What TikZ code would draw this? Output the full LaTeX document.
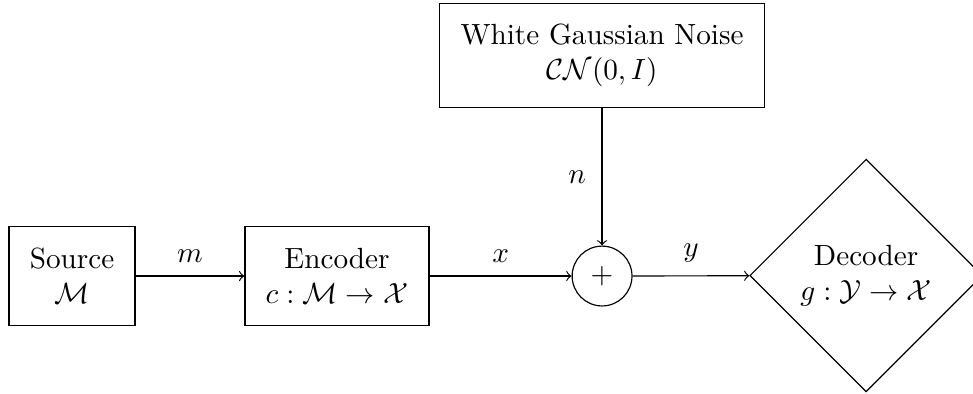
\documentclass[tikz,border=0pt]{standalone}
\usepackage{amsmath,amssymb}
\usetikzlibrary{shapes.geometric}
\tikzset{
  blk/.style={draw,rectangle,align=center,inner sep=0.25cm,minimum height=1.2cm},
  adder/.style={draw,circle,minimum size=0.72cm,inner sep=0pt},
  dec/.style={draw,diamond,aspect=1,align=center,minimum size=2.8cm,inner sep=1pt},
  sig/.style={->}
}

\begin{document}
\begin{tikzpicture}
\useasboundingbox (0,0) rectangle (11.71,-4.73);
\node[blk] (src) at (0.867,-3.322) {Source\\$\mathcal{M}$};
\node[blk] (enc) at (4.056,-3.322) {Encoder\\$c:\mathcal{M}\to\mathcal{X}$};
\node[adder] (sum) at (7.246,-3.322) {$+$};
\node[blk] (noise) at (7.246,-0.668) {White Gaussian Noise\\$\mathcal{CN}(0,I)$};
\node[dec] (dec) at (10.424,-3.316) {Decoder\\$g:\mathcal{Y}\to\mathcal{X}$};
\draw[sig] (src) -- node[above=1pt] {$m$} (enc);
\draw[sig] (enc) -- node[above=1pt] {$x$} (sum);
\draw[sig] (noise) -- node[left=2pt] {$n$} (sum);
\draw[sig] (sum) -- node[above=1pt] {$y$} (dec);
\end{tikzpicture}
\end{document}
